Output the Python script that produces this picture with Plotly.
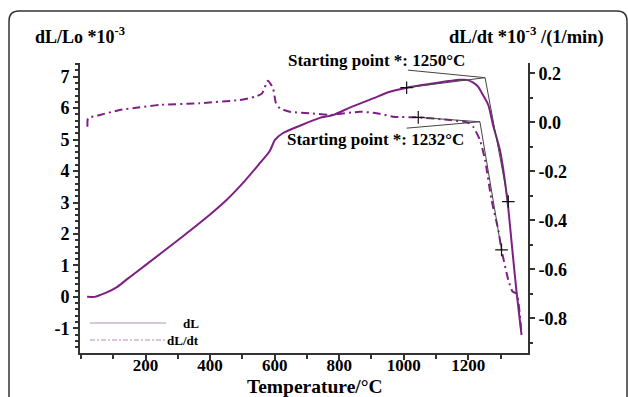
import plotly.graph_objects as go

# ---------------- data ----------------
temp_dl = [19, 43, 59, 80, 110, 140, 200, 300, 400, 451, 500, 550, 585, 601, 626, 680, 740, 781,
           840, 905, 957, 1013, 1100, 1174, 1195, 1214, 1231, 1241, 1262, 1277, 1298, 1321, 1339,
           1350, 1365]
dl_vals = [0.0, 0.0, 0.06, 0.14, 0.30, 0.54, 1.01, 1.80, 2.62, 3.08, 3.60, 4.20, 4.64, 4.99,
           5.21, 5.45, 5.69, 5.78, 6.05, 6.31, 6.52, 6.66, 6.80, 6.90, 6.90, 6.82, 6.68, 6.50,
           6.10, 5.45, 4.67, 3.08, 1.23, 0.11, -1.21]

temp_dldt = [20, 22, 59, 120, 182, 244, 368, 492, 539, 561, 579, 595, 604, 616, 647, 709, 771,
             864, 916, 967, 1045, 1143, 1200, 1215, 1236, 1252, 1272, 1293, 1303, 1324, 1337,
             1350, 1365]
dldt_vals = [-0.018, 0.016, 0.030, 0.050, 0.061, 0.071, 0.078, 0.091, 0.104, 0.118, 0.170, 0.139,
             0.078, 0.057, 0.043, 0.037, 0.030, 0.043, 0.037, 0.023, 0.020, 0.009, -0.002, -0.018,
             -0.072, -0.154, -0.317, -0.440, -0.521, -0.644, -0.691, -0.700, -0.865]

# tangent construction (onset) points
tan_dl_T = [1009, 1252, 1324]
tan_dl_v = [6.65, 6.97, 3.03]
ptr_dl_T = [1013, 1252]
ptr_dl_v = [7.21, 6.97]
tan_dldt_T = [1045, 1236, 1303]
tan_dldt_v = [0.020, 0.002, -0.521]
ptr_dldt_T = [1009, 1236]
ptr_dldt_v = [-0.024, 0.002]

x_ticks = [200, 400, 600, 800, 1000, 1200]
y_ticks = [-1, 0, 1, 2, 3, 4, 5, 6, 7]
y2_ticks = [-0.8, -0.6, -0.4, -0.2, 0.0, 0.2]

onset_dl_label = "Starting point *: 1250°C"
onset_dldt_label = "Starting point *: 1232°C"

# ---------------- style ----------------
W, H = 628, 397
L, R, T, B = 80, 100, 63, 44
PW, PH = W - L - R, H - T - B
PURPLE = "#7f1f85"
FONT = "Liberation Serif"


def px(x):
    return (x - L) / PW


def py(y):
    return (H - B - y) / PH


fig = go.Figure()

fig.add_trace(go.Scatter(x=temp_dl, y=dl_vals, mode="lines",
                         line=dict(color=PURPLE, width=2, shape="spline", smoothing=0.6),
                         showlegend=False))
fig.add_trace(go.Scatter(x=temp_dldt, y=dldt_vals, mode="lines", yaxis="y2",
                         line=dict(color=PURPLE, width=2, dash="8px,4px,2px,4px",
                                   shape="spline", smoothing=0.5),
                         showlegend=False))

# tangent lines
for xs, ys, ax in [(tan_dl_T, tan_dl_v, "y"), (ptr_dl_T, ptr_dl_v, "y"),
                   (tan_dldt_T, tan_dldt_v, "y2"), (ptr_dldt_T, ptr_dldt_v, "y2")]:
    fig.add_trace(go.Scatter(x=xs, y=ys, mode="lines", yaxis=ax,
                             line=dict(color="#444444", width=1), showlegend=False))

# cross markers
fig.add_trace(go.Scatter(x=[tan_dl_T[0], tan_dl_T[2]], y=[tan_dl_v[0], tan_dl_v[2]],
                         mode="markers", marker=dict(symbol="cross-thin", size=9,
                                                     line=dict(color="#111", width=1.2)),
                         showlegend=False))
fig.add_trace(go.Scatter(x=[tan_dldt_T[0], tan_dldt_T[2]], y=[tan_dldt_v[0], tan_dldt_v[2]],
                         yaxis="y2", mode="markers",
                         marker=dict(symbol="cross-thin", size=9,
                                     line=dict(color="#111", width=1.2)),
                         showlegend=False))

tickfont = dict(family=FONT, size=18, color="black", weight="bold")
xtickfont = dict(family=FONT, size=17, color="black", weight="bold")
axline = dict(showline=True, linecolor="#333", linewidth=2, ticks="outside",
              tickcolor="#333", tickwidth=1.5, ticklen=5, showgrid=False, zeroline=False)

fig.update_layout(
    width=W, height=H,
    margin=dict(l=L, r=R, t=T, b=B),
    paper_bgcolor="white", plot_bgcolor="white",
    xaxis=dict(range=[-3, 1385], tickvals=x_ticks, tickfont=xtickfont, ticklabelstandoff=-9,
               minor=dict(dtick=100, ticks="outside", ticklen=4, tickcolor="#333"),
               **axline),
    yaxis=dict(range=[-1.785, 7.436], tickvals=y_ticks,
               ticktext=[str(v) for v in y_ticks], tickfont=tickfont,
               minor=dict(dtick=0.2, ticks="outside", ticklen=3, tickcolor="#333"),
               **axline),
    yaxis2=dict(range=[-0.942, 0.242], overlaying="y", side="right", tickvals=y2_ticks,
                ticktext=[f"{v:.1f}" for v in y2_ticks], tickfont=tickfont,
                minor=dict(dtick=0.1, ticks="outside", ticklen=3, tickcolor="#333"),
                **axline),
    showlegend=False,
)

ann_font = dict(family=FONT, size=17, color="black", weight="bold")
annotations = [
    dict(x=px(33), y=py(36), text="dL/Lo *10<sup>-3</sup>", xanchor="left", yanchor="middle",
         font=dict(family=FONT, size=18, color="black", weight="bold")),
    dict(x=px(606), y=py(36), text="dL/dt *10<sup>-3</sup> /(1/min)", xanchor="right",
         yanchor="middle", font=dict(family=FONT, size=18.5, color="black", weight="bold")),
    dict(x=px(315), y=py(386), text="Temperature/°C", xanchor="center", yanchor="middle",
         font=dict(family=FONT, size=19.5, color="black", weight="bold")),
    dict(x=px(286), y=py(60), text=onset_dl_label, xanchor="left", yanchor="middle",
         font=ann_font),
    dict(x=px(285), y=py(139), text=onset_dldt_label, xanchor="left", yanchor="middle",
         font=ann_font),
    dict(x=px(201), y=py(323), text="dL", xanchor="right", yanchor="middle",
         font=dict(family=FONT, size=13, color="black", weight="bold")),
    dict(x=px(201), y=py(340), text="dL/dt", xanchor="right", yanchor="middle",
         font=dict(family=FONT, size=13, color="black", weight="bold")),
]
for a in annotations:
    a.update(xref="paper", yref="paper", showarrow=False)
fig.update_layout(annotations=annotations)

# border box with rounded corners and legend sample lines
border = (f"M {px(9)},{py(420)} L {px(9)},{py(21)} Q {px(9)},{py(11)} {px(19)},{py(11)} "
          f"L {px(617)},{py(11)} Q {px(627)},{py(11)} {px(627)},{py(21)} L {px(627)},{py(420)}")
shapes = [
    dict(type="path", path=border, xref="paper", yref="paper",
         line=dict(color="#333", width=1.5), layer="above"),
    dict(type="line", x0=px(90), x1=px(166), y0=py(323), y1=py(323), xref="paper",
         yref="paper", line=dict(color="#b48ab8", width=1)),
    dict(type="line", x0=px(90), x1=px(166), y0=py(340), y1=py(340), xref="paper",
         yref="paper", line=dict(color="#b48ab8", width=1, dash="5px,2px,2px,2px")),
]
fig.update_layout(shapes=shapes)

fig.write_html("out.html")
